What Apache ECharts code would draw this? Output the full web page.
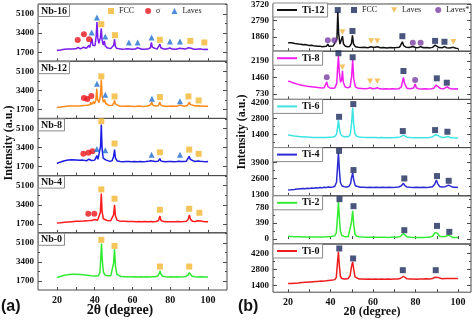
<!DOCTYPE html>
<html>
<head>
<meta charset="utf-8">
<script src="https://cdn.jsdelivr.net/npm/echarts@6/dist/echarts.min.js"></script>
<style>
html,body{margin:0;padding:0;background:#fff}
#chart{width:474px;height:321px}
</style>
</head>
<body>
<div id="chart"></div>
<script>
// ---------- XRD patterns, panel (a): Nb series ----------
const nb16 = [[20,1850],[21,1880],[22,1900],[23,1930],[24,1960],[25,1990],[26,1980],[27,2000],[28,1990],[29,2010],[30,2000],[30.8,2050],[31.2,2120],[31.6,2030],[32.5,2000],[33.5,2040],[34.1,2150],[34.4,2260],[34.8,2080],[35.6,2050],[36.5,2120],[36.9,2300],[37.3,2120],[38.2,2250],[38.6,2900],[39,2300],[39.6,2200],[40.2,2300],[40.8,3200],[41.2,4400],[41.6,3000],[42.2,2500],[43,3000],[43.5,3820],[43.9,2800],[44.5,2350],[45.1,2710],[45.5,2300],[46.5,2100],[47.5,2050],[48.5,2020],[49.5,2080],[50.1,2350],[50.5,2860],[50.9,2250],[51.6,2050],[53,2000],[54.5,1970],[56,1980],[57.5,2000],[58,2080],[58.6,1990],[60,1970],[61.5,1980],[62.7,2100],[63.4,1980],[65,1960],[66.5,1970],[68,1980],[69.5,2100],[70,2570],[70.5,2150],[71.5,2000],[73,1980],[74,2100],[74.5,2420],[75,2100],[76.5,1990],[78,1980],[79.8,2080],[81,1980],[83,1970],[85,2050],[86,1970],[88,1980],[89.5,2100],[90.2,2210],[91,2050],[92.5,1970],[94,1960],[96,2000],[97.5,1950],[99,1960],[100,1950]];
const nb12 = [[20,1880],[21,1900],[22,1920],[23,1950],[24,1970],[25,1990],[26,2000],[27,1990],[28,2010],[29,2000],[30,2010],[31,1990],[32,2000],[33,2010],[34,2060],[34.4,2150],[34.9,2040],[35.8,2080],[36.2,2180],[36.6,2060],[37.5,2120],[37.9,2350],[38.3,2130],[39,2200],[39.4,2400],[39.8,2180],[40.6,2500],[41.1,3550],[41.5,2600],[42.3,2300],[43,2900],[43.5,4360],[43.9,2900],[44.6,2350],[45.3,2570],[45.7,2250],[46.6,2100],[47.5,2060],[48.5,2040],[49.5,2080],[50.1,2300],[50.5,2500],[50.9,2200],[51.8,2050],[53,2000],[54.5,1990],[56,1980],[57.5,2000],[59,1990],[60.5,1970],[62,1980],[63.5,2000],[65,1970],[66.5,1980],[68,2000],[69.5,2100],[70.2,2350],[70.7,2080],[72,2000],[73.5,2020],[74.1,2150],[74.5,2350],[74.9,2100],[76,2000],[77.5,1990],[79,1980],[80.5,2000],[82,1990],[83.5,1980],[85,2080],[86,1990],[87.5,1980],[89,2050],[89.6,2200],[90.1,2350],[90.6,2150],[91.5,2030],[93,2000],[94.5,2020],[95.3,2100],[96,2000],[97.5,1980],[99,1990],[100,1980]];
const nb8 = [[20,1980],[21,2050],[22,2120],[23,2180],[24,2230],[25,2260],[26,2290],[27,2300],[28,2310],[29,2290],[30,2300],[31,2280],[32,2260],[33,2240],[33.8,2280],[34.2,2340],[34.7,2230],[35.7,2220],[36.5,2260],[36.9,2360],[37.4,2230],[38.3,2250],[38.8,2420],[39.3,2250],[40,2280],[40.7,2450],[41.2,2680],[41.7,2350],[42.5,2400],[43.1,3500],[43.5,5460],[43.9,3300],[44.5,2450],[45.2,2570],[45.8,2300],[46.8,2200],[48,2170],[49.2,2220],[50,2600],[50.5,3220],[51,2450],[52,2200],[53.5,2160],[55,2140],[56.5,2150],[58,2160],[59.5,2140],[61,2150],[62.5,2130],[64,2150],[65.5,2140],[67,2150],[68.5,2170],[69.6,2230],[70.1,2390],[70.6,2200],[72,2150],[73.5,2170],[74.1,2250],[74.5,2420],[74.9,2230],[76.2,2150],[77.5,2140],[79,2160],[80.5,2150],[82,2140],[83.5,2150],[84.6,2180],[85.1,2240],[85.7,2160],[87,2150],[88.5,2180],[89.5,2300],[90,2620],[90.5,2350],[91.5,2180],[93,2160],[94.5,2200],[95.1,2240],[95.8,2170],[97.5,2150],[99,2140],[100,2150]];
const nb4 = [[20,1780],[21,1800],[22,1790],[23,1820],[24,1830],[25,1850],[26,1860],[27,1880],[28,1890],[29,1900],[30,1920],[31,1930],[32,1940],[33,1950],[34,1950],[35,1960],[36,1980],[36.7,2090],[37.3,1990],[38.5,2000],[39.4,2020],[39.9,2090],[40.5,2010],[41.5,2020],[42.4,2100],[43,2700],[43.5,4400],[43.9,2800],[44.6,2150],[45.5,2050],[46.5,2000],[47.5,1980],[48.5,1980],[49.4,2050],[50,2500],[50.5,3400],[51,2400],[51.8,2030],[53,1960],[54.5,1930],[56,1920],[57.5,1910],[59,1900],[60.5,1910],[62,1890],[63.5,1900],[65,1880],[66.5,1900],[68,1890],[69.5,1900],[71,1890],[72.5,1910],[73.8,2000],[74.5,2390],[75.1,2000],[76.5,1900],[78,1890],[79.5,1880],[81,1890],[82.5,1880],[84,1900],[85.5,1890],[87,1900],[88.5,1920],[89.5,2100],[90.1,2500],[90.7,2100],[91.8,1920],[93.2,1900],[94.6,1980],[95.4,2150],[96.2,1960],[97.5,1900],[99,1890],[100,1880]];
const nb0 = [[20,2000],[21,2060],[22,2120],[23,2170],[24,2210],[25,2250],[26,2270],[27,2290],[28,2300],[29,2310],[30,2300],[31,2310],[32,2290],[33,2280],[34,2260],[35,2240],[36,2220],[37,2200],[38,2180],[39,2170],[40,2150],[41,2150],[42,2180],[42.8,2500],[43.3,4000],[43.6,5050],[44,3600],[44.6,2500],[45.4,2250],[46.5,2180],[47.5,2150],[48.5,2160],[49.4,2300],[50,3300],[50.5,4540],[51,3000],[51.7,2300],[52.7,2150],[54,2100],[55.5,2090],[57,2080],[58.5,2090],[60,2070],[61.5,2080],[63,2070],[64.5,2080],[66,2070],[67.5,2080],[69,2070],[70.5,2080],[72,2090],[73.4,2150],[74.1,2350],[74.6,2600],[75.1,2300],[76,2120],[77.5,2080],[79,2070],[80.5,2080],[82,2070],[83.5,2080],[85,2070],[86.5,2080],[88,2100],[89.3,2200],[90,2450],[90.6,2300],[91.5,2130],[93,2080],[94.5,2070],[96,2090],[97.5,2070],[99,2060],[100,2070]];

// phase markers, panel (a)
const nb16Fcc = [[43.5,4200],[50.7,3220],[74.5,2800],[90.6,2710],[98,2570]];
const nb16Sigma = [[31.0,2800],[34.3,3310],[37.0,2860]];
const nb16Laves = [[38.4,3460],[41.2,4800],[45.6,3100],[58.1,2570],[62.7,2570],[70.1,3010],[79.8,2660],[85.1,2660]];
const nb12Fcc = [[43.5,4650],[50.5,2860],[74.5,2800],[89.6,2860],[95,2500]];
const nb12Sigma = [[34.3,2710],[36.1,2620],[38.2,2890]];
const nb12Laves = [[41.2,4000],[45.6,3010],[70.3,2660],[85.1,2420]];
const nb8Fcc = [[43.5,5750],[50.5,3760],[74.5,2980],[90,3220],[95,2840]];
const nb8Sigma = [[34.0,2840],[36.7,2930],[38.8,3070]];
const nb8Laves = [[41.2,3280],[45.6,3160],[70.1,2770],[85.1,2770]];
const nb4Fcc = [[43.5,4770],[50.5,3940],[74.5,2950],[90,3040],[95.4,2680]];
const nb4Sigma = [[36.6,2600],[39.8,2600]];
const nb0Fcc = [[43.5,5370],[50.5,4830],[74.5,2990],[90,2990]];

// ---------- XRD patterns, panel (b): Ti series ----------
const ti12 = [[20,1530],[20.8,1500],[21.6,1520],[22.4,1490],[23.2,1480],[24,1470],[25,1450],[26,1440],[27,1410],[28,1420],[29,1390],[30,1370],[31,1380],[32,1350],[33,1340],[34,1320],[35,1330],[36,1300],[37,1310],[38,1320],[38.7,1450],[39.3,1320],[40.2,1300],[41.2,1340],[41.8,1460],[42.4,1360],[43,1750],[43.4,3300],[43.8,2050],[44.4,1450],[45.1,1520],[45.6,1900],[46.1,1450],[47,1320],[48,1290],[49,1310],[49.8,1480],[50.3,1950],[50.8,1450],[51.7,1300],[53,1270],[54.5,1250],[56,1260],[57.5,1240],[59.1,1300],[60.3,1250],[62,1290],[63.5,1240],[65,1250],[66.5,1230],[68,1250],[69.5,1240],[71,1250],[72.5,1270],[73.3,1380],[73.8,1580],[74.4,1360],[75.5,1270],[77,1250],[78.7,1310],[80.2,1240],[81.3,1250],[82.4,1300],[83.8,1240],[85.3,1250],[86.8,1230],[88,1260],[88.7,1320],[89.2,1390],[89.8,1300],[91,1250],[92.5,1240],[93.6,1300],[94.6,1240],[96,1230],[97.8,1260],[99,1210],[100,1200]];
const ti8 = [[20,1300],[21,1280],[22,1240],[23,1210],[24,1180],[25,1150],[26,1130],[27,1110],[28,1090],[29,1070],[30,1060],[31,1050],[32,1040],[33,1030],[34,1020],[35,1010],[36,1000],[37,1010],[37.7,1080],[38.2,1270],[38.7,1060],[39.7,1000],[41,990],[42,1000],[42.9,1200],[43.3,1900],[43.7,2420],[44.1,1700],[44.7,1250],[45.2,1350],[45.6,1760],[46,1250],[46.8,1050],[48,1000],[49.2,1050],[49.9,1500],[50.4,2240],[50.9,1400],[51.7,1050],[53,980],[54.5,970],[56,960],[57.5,970],[58.6,1010],[59.8,965],[61,970],[62,1010],[63,960],[64.5,955],[66,960],[67.5,950],[69,960],[70.5,955],[72,960],[73.3,1050],[73.9,1300],[74.3,1470],[74.8,1200],[76,980],[77.5,960],[79.1,1000],[79.8,1170],[80.4,1000],[81.5,960],[83,955],[84.5,960],[86,950],[87.5,960],[88.8,1000],[89.5,1120],[90,1200],[90.6,1060],[91.8,970],[93.2,960],[94.1,1010],[94.7,1050],[95.3,1000],[96.5,960],[98,950],[99,960],[100,955]];
const ti6 = [[20,1320],[21,1300],[22,1270],[23,1240],[24,1220],[25,1200],[26,1180],[27,1170],[28,1150],[29,1140],[30,1130],[31,1120],[32,1115],[33,1110],[34,1105],[35,1100],[36,1100],[37,1105],[38,1110],[39,1120],[40,1130],[41,1150],[42,1200],[42.8,1400],[43.3,2000],[43.7,2660],[44.1,2000],[44.6,1450],[45.4,1250],[46.5,1180],[47.5,1170],[48.5,1200],[49.3,1400],[49.9,2400],[50.4,3780],[50.9,2300],[51.5,1450],[52.3,1220],[53.5,1150],[55,1120],[56.5,1110],[58,1100],[59.5,1100],[61,1095],[62.5,1090],[64,1095],[65.5,1090],[67,1085],[68.5,1090],[70,1095],[71.5,1110],[72.8,1160],[73.7,1260],[74.3,1320],[74.9,1230],[76,1130],[77.5,1100],[79,1090],[80.5,1085],[82,1090],[83.5,1080],[85,1090],[86.5,1100],[88,1150],[89.2,1350],[89.8,1470],[90.4,1300],[91.3,1150],[92.5,1100],[94,1120],[95.2,1200],[96.2,1110],[97.5,1080],[99,1060],[100,1050]];
const ti4 = [[20,1680],[20.7,1720],[21.4,1700],[22.2,1740],[23,1730],[24,1770],[25,1760],[26,1790],[27,1800],[28,1780],[29,1820],[30,1810],[31,1840],[32,1830],[33,1860],[34,1850],[35,1880],[36,1870],[37,1900],[38,1890],[39,1920],[40,1910],[41,1930],[42,1980],[42.8,2300],[43.3,3600],[43.7,4660],[44.1,3400],[44.6,2300],[45.4,2000],[46.5,1950],[47.5,1930],[48.5,1960],[49.4,2200],[49.9,2700],[50.4,3060],[50.9,2500],[51.6,2030],[52.5,1930],[54,1900],[55.5,1910],[57,1880],[58.5,1900],[60,1890],[61.5,1910],[63,1880],[64.5,1900],[66,1890],[67.5,1910],[69,1890],[70.5,1900],[72,1920],[73.2,2000],[73.8,2150],[74.3,2220],[74.9,2050],[76,1920],[77.5,1900],[79,1890],[80.5,1910],[82,1890],[83.5,1900],[85,1880],[86.5,1910],[88,1950],[89,2150],[89.8,2480],[90.4,2200],[91.3,1970],[92.5,1920],[94,1950],[95.5,2080],[96.4,1960],[97.5,1910],[99,1900],[100,1890]];
const ti2 = [[20,70],[21,65],[22,62],[23,60],[24,58],[25,56],[26,55],[27,54],[28,53],[29,52],[30,52],[31,51],[32,50],[33,50],[34,50],[35,51],[36,52],[37,53],[38,55],[39,58],[40,62],[41,68],[42,85],[42.7,150],[43.2,500],[43.7,910],[44.1,560],[44.6,200],[45.3,90],[46.3,65],[47.3,58],[48.3,62],[49.2,110],[49.8,400],[50.4,690],[50.9,360],[51.5,120],[52.3,70],[53.5,55],[55,50],[56.5,48],[58,46],[59.5,45],[61,44],[62.5,44],[64,43],[65.5,43],[67,42],[68.5,43],[70,44],[71.5,48],[72.8,65],[73.7,110],[74.3,137],[74.9,95],[76,55],[77.5,45],[79,42],[80.5,42],[82,41],[83.5,42],[85,43],[86.5,48],[88,70],[89.1,160],[89.8,200],[90.4,140],[91.3,70],[92.5,55],[94,65],[95.5,96],[96.4,60],[97.5,42],[99,40],[100,40]];
const ti0 = [[20,1560],[20.8,1580],[21.6,1550],[22.4,1600],[23.2,1590],[24,1620],[25,1610],[26,1650],[27,1640],[28,1680],[29,1660],[30,1700],[31,1690],[32,1720],[33,1740],[34,1730],[35,1770],[36,1760],[37,1790],[38,1800],[39,1820],[40,1840],[41,1860],[42,1900],[42.7,2100],[43.2,3300],[43.7,4350],[44.1,3200],[44.6,2200],[45.3,2000],[46.3,1950],[47.3,1960],[48.3,2000],[49.2,2250],[49.8,3000],[50.4,3470],[50.9,2800],[51.5,2150],[52.3,1980],[53.5,1950],[55,1960],[56.5,1930],[58,1950],[59.5,1940],[61,1960],[62.5,1930],[64,1950],[65.5,1940],[67,1960],[68.5,1940],[70,1950],[71.5,1960],[72.8,2000],[73.7,2120],[74.3,2200],[74.9,2080],[76,1970],[77.5,1950],[79,1960],[80.5,1940],[82,1960],[83.5,1950],[85,1970],[86.5,1960],[88,2000],[89.1,2120],[89.8,2230],[90.4,2100],[91.3,2000],[92.5,1980],[94,2000],[95.5,1990],[97,2010],[98.5,1990],[100,2000]];

// phase markers, panel (b)
const ti12Fcc = [[43.4,3400],[50.3,2200],[73.8,1900],[89.2,1630],[93.6,1580]];
const ti12Laves = [[45.6,2140],[59.1,1630],[62.0,1630],[97.8,1580]];
const ti12LavesStar = [[38.7,1675],[41.8,1675],[78.7,1520],[82.4,1520]];
const ti8Fcc = [[43.7,2540],[50.4,2360],[74.3,1750],[90.0,1425],[94.7,1230]];
const ti8Laves = [[45.6,1915],[58.6,1300],[62.0,1300]];
const ti8LavesStar = [[38.2,1470],[79.8,1350]];
const ti6Fcc = [[44.0,2960],[50.7,4100],[74.0,1680],[89.2,1770],[95.0,1620]];
const ti4Fcc = [[44.0,4820],[50.8,3280],[74.7,2610],[90.1,2800],[95.6,2420]];
const ti2Fcc = [[44.2,978],[50.8,806],[74.7,218],[90.1,323],[95.9,177]];
const ti0Fcc = [[44.1,4653],[50.6,3770],[74.0,2735],[89.5,2735]];

// tick values
const xTickMarks = [20,30,40,50,60,70,80,90,100];
const xTickLabels = [20,40,60,80,100];
const nbTicks = [1700,3400,5100];
const ti12Ticks = [1860,2790,3720];
const ti8Ticks = [730,1460,2190];
const ti6Ticks = [1400,2800,4200];
const ti4Ticks = [1300,2600,3900];
const ti2Ticks = [0,390,780];
const ti0Ticks = [1400,2800,4200];

// ---------- layout / styling ----------
const SERIF = '"Liberation Serif","Times New Roman",serif';
const FRAME = '#4a4a4a';
const FCC_A = '#f4b631', SIGMA = '#e8141c', LAVES_A = '#1f6fd0';
const FCC_B = '#1c2b5c', LAVES_B = '#f2b43c', LAVES_STAR = '#7b3fa3';
const DOWN_TRI = 'path://M0,0L10,0L5,9Z';
const plain = v => String(v);

const panelA = [
  {name:'Nb-16', color:'#7a1cf0', data:nb16, marks:[['FCC-a',nb16Fcc],['σ',nb16Sigma],['Laves-a',nb16Laves]]},
  {name:'Nb-12', color:'#ff8a1a', data:nb12, marks:[['FCC-a',nb12Fcc],['σ',nb12Sigma],['Laves-a',nb12Laves]]},
  {name:'Nb-8', color:'#1c1ce2', data:nb8, marks:[['FCC-a',nb8Fcc],['σ',nb8Sigma],['Laves-a',nb8Laves]]},
  {name:'Nb-4', color:'#ff1c1c', data:nb4, marks:[['FCC-a',nb4Fcc],['σ',nb4Sigma]]},
  {name:'Nb-0', color:'#30ea30', data:nb0, marks:[['FCC-a',nb0Fcc]]}
];
const panelB = [
  {name:'Ti-12', color:'#111111', data:ti12, ticks:ti12Ticks, range:[1040,3750], marks:[['FCC-b',ti12Fcc],['Laves-b',ti12Laves],['Laves*',ti12LavesStar]]},
  {name:'Ti-8', color:'#f01ff0', data:ti8, ticks:ti8Ticks, range:[490,2630], marks:[['FCC-b',ti8Fcc],['Laves-b',ti8Laves],['Laves*',ti8LavesStar]]},
  {name:'Ti-6', color:'#3ee4e4', data:ti6, ticks:ti6Ticks, range:[200,4520], marks:[['FCC-b',ti6Fcc]]},
  {name:'Ti-4', color:'#2b2bd4', data:ti4, ticks:ti4Ticks, range:[1220,5080], marks:[['FCC-b',ti4Fcc]]},
  {name:'Ti-2', color:'#33ec33', data:ti2, ticks:ti2Ticks, range:[-120,1060], marks:[['FCC-b',ti2Fcc]]},
  {name:'Ti-0', color:'#ee1c1c', data:ti0, ticks:ti0Ticks, range:[790,5050], marks:[['FCC-b',ti0Fcc]]}
];

const markStyle = {
  'FCC-a':   {symbol:'rect', size:6, color:FCC_A},
  'σ':       {symbol:'circle', size:6, color:SIGMA},
  'Laves-a': {symbol:'triangle', size:6, color:LAVES_A},
  'FCC-b':   {symbol:'rect', size:6, color:FCC_B},
  'Laves-b': {symbol:DOWN_TRI, size:[6,5.5], color:LAVES_B},
  'Laves*':  {symbol:'circle', size:6, color:LAVES_STAR}
};

const grids = [], xAxes = [], yAxes = [], series = [], titles = [], legends = [];

function minorOf(ticks, lo, hi) {
  const step = ticks[1] - ticks[0];
  const out = [ticks[0] - step / 2];
  ticks.forEach(t => out.push(t + step / 2));
  return out.filter(v => v > lo && v < hi);
}

function addPlot(box, xr, yr, ticks, isBottom, line, marks) {
  const g = grids.length;
  grids.push({left:box.left, top:box.top, width:box.width, height:box.height,
    show:true, borderColor:FRAME, borderWidth:1, backgroundColor:'transparent'});
  xAxes.push({type:'value', gridIndex:g, min:xr[0], max:xr[1],
    axisLine:{show:false}, splitLine:{show:false},
    axisTick:{show:true, inside:true, length:3, customValues:xTickMarks, lineStyle:{color:FRAME}},
    axisLabel:{show:isBottom, customValues:xTickLabels, margin:5, formatter:plain,
      fontFamily:SERIF, fontWeight:'bold', fontSize:10, color:'#111'}});
  const minor = minorOf(ticks, yr[0], yr[1]);
  const base = {type:'value', gridIndex:g, min:yr[0], max:yr[1],
    axisLine:{show:false}, splitLine:{show:false}};
  yAxes.push(Object.assign({}, base, {position:'left',
    axisTick:{show:true, inside:true, length:4, customValues:ticks, lineStyle:{color:FRAME}},
    axisLabel:{show:true, customValues:ticks, margin:4, formatter:plain,
      fontFamily:SERIF, fontWeight:'bold', fontSize:9, color:'#111'}}));
  yAxes.push(Object.assign({}, base, {position:'left',
    axisTick:{show:true, inside:true, length:2, customValues:minor, lineStyle:{color:FRAME}},
    axisLabel:{show:false}}));
  yAxes.push(Object.assign({}, base, {position:'right',
    axisTick:{show:true, inside:true, length:4, customValues:ticks, lineStyle:{color:FRAME}},
    axisLabel:{show:false}}));
  yAxes.push(Object.assign({}, base, {position:'right',
    axisTick:{show:true, inside:true, length:2, customValues:minor, lineStyle:{color:FRAME}},
    axisLabel:{show:false}}));
  series.push({type:'line', name:line.name, xAxisIndex:g, yAxisIndex:4 * g,
    data:line.data, showSymbol:false, symbol:'none', silent:true, z:2,
    lineStyle:{width:1.5, color:line.color}, itemStyle:{color:line.color}});
  marks.forEach(([name, pts]) => {
    const s = markStyle[name];
    series.push({type:'scatter', name, xAxisIndex:g, yAxisIndex:4 * g, data:pts,
      symbol:s.symbol, symbolSize:s.size, itemStyle:{color:s.color}, silent:true, z:3});
  });
  return g;
}

// panel (a): five stacked frames
const aLeft = 38, aWidth = 189, aTop = 4, aH = 57.2;
panelA.forEach((p, i) => {
  const top = aTop + i * aH;
  addPlot({left:aLeft, top, width:aWidth, height:aH}, [10,110], [900,6000], nbTicks,
    i === panelA.length - 1, p, p.marks);
  titles.push({text:p.name, left:aLeft, top:top, padding:[2,3,1,3],
    borderColor:'#8a8a8a', borderWidth:1, backgroundColor:'#fff',
    textStyle:{fontFamily:SERIF, fontWeight:'bold', fontSize:10, color:'#111'}});
});

// panel (b): six stacked frames
const bLeft = 273, bWidth = 198, bTop = 3, bH = 48.2;
panelB.forEach((p, i) => {
  const top = bTop + i * bH;
  addPlot({left:bLeft, top, width:bWidth, height:bH}, [12.9,106.1], p.range, p.ticks,
    i === panelB.length - 1, p, p.marks);
  legends.push({data:[p.name], left:bLeft, top:top, orient:'horizontal',
    icon:'rect', itemWidth:20, itemHeight:2, padding:[2,3,2,4],
    borderColor:'#8a8a8a', borderWidth:1, backgroundColor:'#fff', selectedMode:false,
    textStyle:{fontFamily:SERIF, fontWeight:'bold', fontSize:10, color:'#111'}});
});

// phase keys
const keyFormatter = n => n.replace(/-[ab]$/, '');
legends.push({data:['FCC-a','σ','Laves-a'], left:108, top:7, itemWidth:6, itemHeight:6,
  itemGap:11, padding:0, selectedMode:false, formatter:keyFormatter,
  textStyle:{fontFamily:SERIF, fontSize:8, color:'#222'}});
legends.push({data:['FCC-b','Laves-b','Laves*'], left:351, top:6, itemWidth:6, itemHeight:6,
  itemGap:14, padding:0, selectedMode:false, formatter:keyFormatter,
  textStyle:{fontFamily:SERIF, fontSize:8, color:'#222'}});

const graphic = [
  {type:'text', x:1, y:307, style:{text:'(a)', font:'bold 16px "Liberation Sans",Arial,sans-serif', fill:'#111', textVerticalAlign:'middle'}},
  {type:'text', x:238, y:307, style:{text:'(b)', font:'bold 16px "Liberation Sans",Arial,sans-serif', fill:'#111', textVerticalAlign:'middle'}},
  {type:'text', x:120, y:310, style:{text:'2θ (degree)', font:'bold 14px ' + SERIF, fill:'#111', textAlign:'center', textVerticalAlign:'middle'}},
  {type:'text', x:372, y:312, style:{text:'2θ (degree)', font:'bold 12px ' + SERIF, fill:'#111', textAlign:'center', textVerticalAlign:'middle'}},
  {type:'text', x:9, y:143, rotation:Math.PI / 2, style:{text:'Intensity (a.u.)', font:'bold 12px ' + SERIF, fill:'#111', textAlign:'center', textVerticalAlign:'middle'}},
  {type:'text', x:242, y:132, rotation:Math.PI / 2, style:{text:'Intensity (a.u.)', font:'bold 12px ' + SERIF, fill:'#111', textAlign:'center', textVerticalAlign:'middle'}}
];

const chart = echarts.init(document.getElementById('chart'), null, {renderer:'canvas'});
chart.setOption({
  animation:false,
  backgroundColor:'#fff',
  grid:grids, xAxis:xAxes, yAxis:yAxes, series,
  title:titles, legend:legends, graphic
});
</script>
</body>
</html>
